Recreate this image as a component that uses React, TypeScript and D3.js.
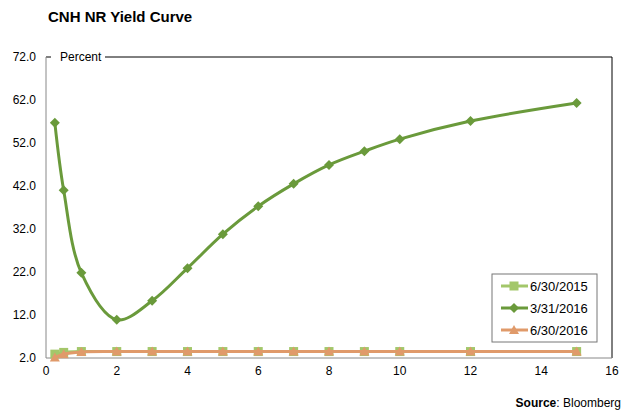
import React from "react";
import * as d3 from "d3";

const maturities = [0.25, 0.5, 1, 2, 3, 4, 5, 6, 7, 8, 9, 10, 12, 15];
const y2015 = [2.9, 3.3, 3.5, 3.5, 3.5, 3.5, 3.5, 3.5, 3.5, 3.5, 3.5, 3.5, 3.5, 3.5];
const y2016q1 = [56.7, 41.0, 21.8, 10.9, 15.3, 22.9, 30.8, 37.3, 42.5, 46.9, 50.1, 52.9, 57.1, 61.3];
const y2016q2 = [2.1, 2.9, 3.4, 3.5, 3.5, 3.5, 3.5, 3.5, 3.5, 3.5, 3.5, 3.5, 3.5, 3.5];
const seriesNames = ["6/30/2015", "3/31/2016", "6/30/2016"];
const yTicks = [2, 12, 22, 32, 42, 52, 62, 72];
const xTicks = [0, 2, 4, 6, 8, 10, 12, 14, 16];

const W = 627, H = 414;
const L = 46, R = 612, T = 57, B = 358;
const font = "Arial, 'Liberation Sans', sans-serif";

export default function App() {
  const x = d3.scaleLinear().domain([0, 16]).range([L, R]);
  const y = d3.scaleLinear().domain([2, 72]).range([B, T]);
  const line = d3.line<number>()
    .x((_, i) => x(maturities[i]))
    .y((d) => y(d))
    .curve(d3.curveCatmullRom.alpha(0.5));

  const colors = ["#A3C76A", "#6A9A3B", "#E09A6A"];
  const data = [y2015, y2016q1, y2016q2];

  const square = (cx: number, cy: number, c: string, k: string) => (
    <rect key={k} x={cx - 4.5} y={cy - 4.5} width={9} height={9} fill={c} />
  );
  const diamond = (cx: number, cy: number, c: string, k: string) => (
    <path key={k} d={`M${cx},${cy - 5}L${cx + 5},${cy}L${cx},${cy + 5}L${cx - 5},${cy}Z`} fill={c} />
  );
  const tri = (cx: number, cy: number, c: string, k: string) => (
    <path key={k} d={`M${cx},${cy - 5}L${cx + 5},${cy + 4}L${cx - 5},${cy + 4}Z`} fill={c} />
  );
  const markers = [square, diamond, tri];

  const legX = 492, legY = 274;
  return (
    <svg width={W} height={H} style={{ position: "absolute", left: 0, top: 0 }} fontFamily={font}>
      <rect width={W} height={H} fill="#fff" />
      <text x={48} y={22} fontSize={15} fontWeight="bold" fill="#000">CNH NR Yield Curve</text>
      {/* frame */}
      <line x1={L} y1={T} x2={L + 5} y2={T} stroke="#000" strokeWidth={1} />
      <text x={60} y={61} fontSize={12} fill="#000">Percent</text>
      <line x1={105} y1={T} x2={R} y2={T} stroke="#000" strokeWidth={1} />
      <line x1={R} y1={T} x2={R} y2={B} stroke="#000" strokeWidth={1} />
      <line x1={L} y1={T} x2={L} y2={B} stroke="#888" strokeWidth={1} />
      <line x1={L} y1={B} x2={R} y2={B} stroke="#888" strokeWidth={1} />
      {yTicks.map((t) => (
        <text key={t} x={36} y={y(t) + 4} fontSize={12} textAnchor="end" fill="#000">{t.toFixed(1)}</text>
      ))}
      {xTicks.map((t) => (
        <text key={t} x={x(t)} y={B + 17} fontSize={12} textAnchor="middle" fill="#000">{t}</text>
      ))}
      {data.map((d, si) => (
        <g key={si}>
          <path d={line(d) || ""} fill="none" stroke={colors[si]} strokeWidth={3} />
          {d.map((v, i) => markers[si](x(maturities[i]), y(v), colors[si], `${si}-${i}`))}
        </g>
      ))}
      {/* legend */}
      <rect x={legX} y={legY} width={105} height={68} fill="#fff" stroke="#777" strokeWidth={1} />
      {seriesNames.map((n, i) => {
        const cy = legY + 12 + i * 22;
        return (
          <g key={n}>
            <line x1={legX + 9} y1={cy} x2={legX + 36} y2={cy} stroke={colors[i]} strokeWidth={3} />
            {markers[i](legX + 22, cy, colors[i], "m" + i)}
            <text x={legX + 38} y={cy + 5} fontSize={13} fill="#000">{n}</text>
          </g>
        );
      })}
      <text x={621} y={407} fontSize={12} textAnchor="end" fill="#000">
        <tspan fontWeight="bold">Source</tspan>: Bloomberg
      </text>
    </svg>
  );
}
